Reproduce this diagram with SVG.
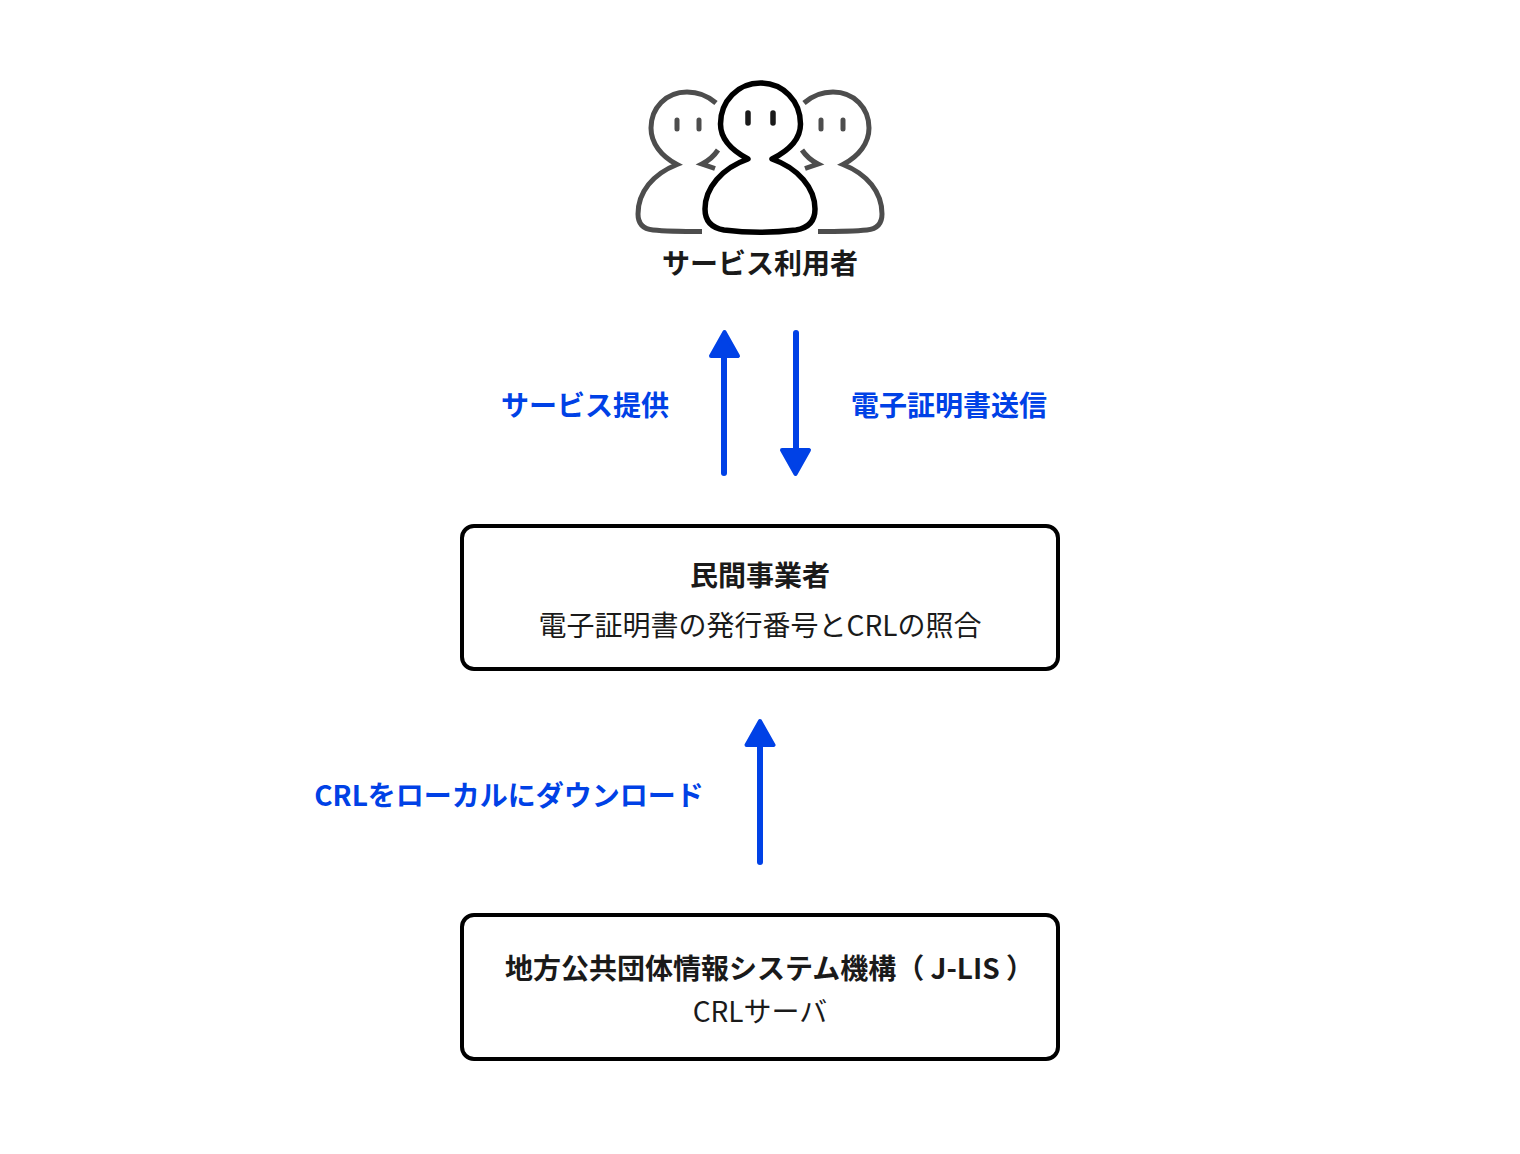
<svg xmlns="http://www.w3.org/2000/svg" width="1520" height="1154" viewBox="0 0 1520 1154">
<style>
text{font-family:"Noto Sans CJK JP","Noto Sans",sans-serif;font-size:28px;fill:#1a1a1a}
.b{font-weight:700}
.l{font-weight:700;fill:#0041e6}
.box{fill:#fff;stroke:#000;stroke-width:4}
.wire{stroke:#0041e6;stroke-width:6;stroke-linecap:round;fill:none}
.head{fill:#0041e6;stroke:#0041e6;stroke-width:4;stroke-linejoin:round}
.p1{fill:none;stroke:#4d4d4d;stroke-width:5}
.p2{fill:#fff;stroke:#000;stroke-width:5.5;stroke-linejoin:round}
.e1{stroke:#4d4d4d;stroke-width:5;stroke-linecap:round}
.e2{stroke:#1a1a1a;stroke-width:5.5;stroke-linecap:round}
</style>
<rect width="1520" height="1154" fill="#fff"/>
<g id="users">
<path class="p1" d="M716 103C708 96 698 92 687 92C666 92 651 108 651 128C651 143 661 156 677 164.500C653 174 638 192 638 214C638 224 643 229 653 230C668 231.500 685 231.500 702 231.500"/>
<path class="p1" d="M718 150C714 156 708 161 702 164L715 168.500"/>
<path class="p1" d="M804 103C812 96 822 92 833 92C854 92 869 108 869 128C869 143 859 156 843 164.500C867 174 882 192 882 214C882 224 877 229 867 230C852 231.500 835 231.500 818 231.500"/>
<path class="p1" d="M802 150C806 156 812 161 818 164L805 168.500"/>
<path class="e1" d="M677 120V129M699 120V129M821 120V129M843 120V129"/>
<path class="p2" d="M748 159C731 150 720.500 139 720.500 124C720.500 101 738 83 760.500 83C783 83 800.500 101 800.500 124C800.500 139 790 150 772 159C798 168 815 188 815 209C815 221 808 228 796 230C772 233 748 233 724 230C712 228 705 221 705 209C705 188 722 168 748 159Z"/>
<path class="e2" d="M748 113V123M773 113V123"/>
<text class="b" x="760" y="274" text-anchor="middle">サービス利用者</text>
</g>
<g id="connectors">
<path class="wire" d="M724 473V352"/><path class="head" d="M724.500 332L738 356H711Z"/>
<path class="wire" d="M796 333V452"/><path class="head" d="M795.500 474L809 450H782Z"/>
<path class="wire" d="M760 862V742"/><path class="head" d="M760 721L773.500 745H746.500Z"/>
<text class="l" x="585" y="416" text-anchor="middle">サービス提供</text>
<text class="l" x="949" y="416" text-anchor="middle">電子証明書送信</text>
<text class="l" x="509" y="806" text-anchor="middle">CRLをローカルにダウンロード</text>
</g>
<g id="operator">
<rect class="box" x="462" y="526" width="596" height="143" rx="12"/>
<text class="b" x="760" y="586" text-anchor="middle">民間事業者</text>
<text x="760" y="636" text-anchor="middle">電子証明書の発行番号とCRLの照合</text>
</g>
<g id="jlis">
<rect class="box" x="462" y="915" width="596" height="144" rx="12"/>
<text class="b" x="769.500" y="979" text-anchor="middle">地方公共団体情報システム機構（ J-LIS ）</text>
<text x="760" y="1021.500" text-anchor="middle">CRLサーバ</text>
</g>
</svg>
